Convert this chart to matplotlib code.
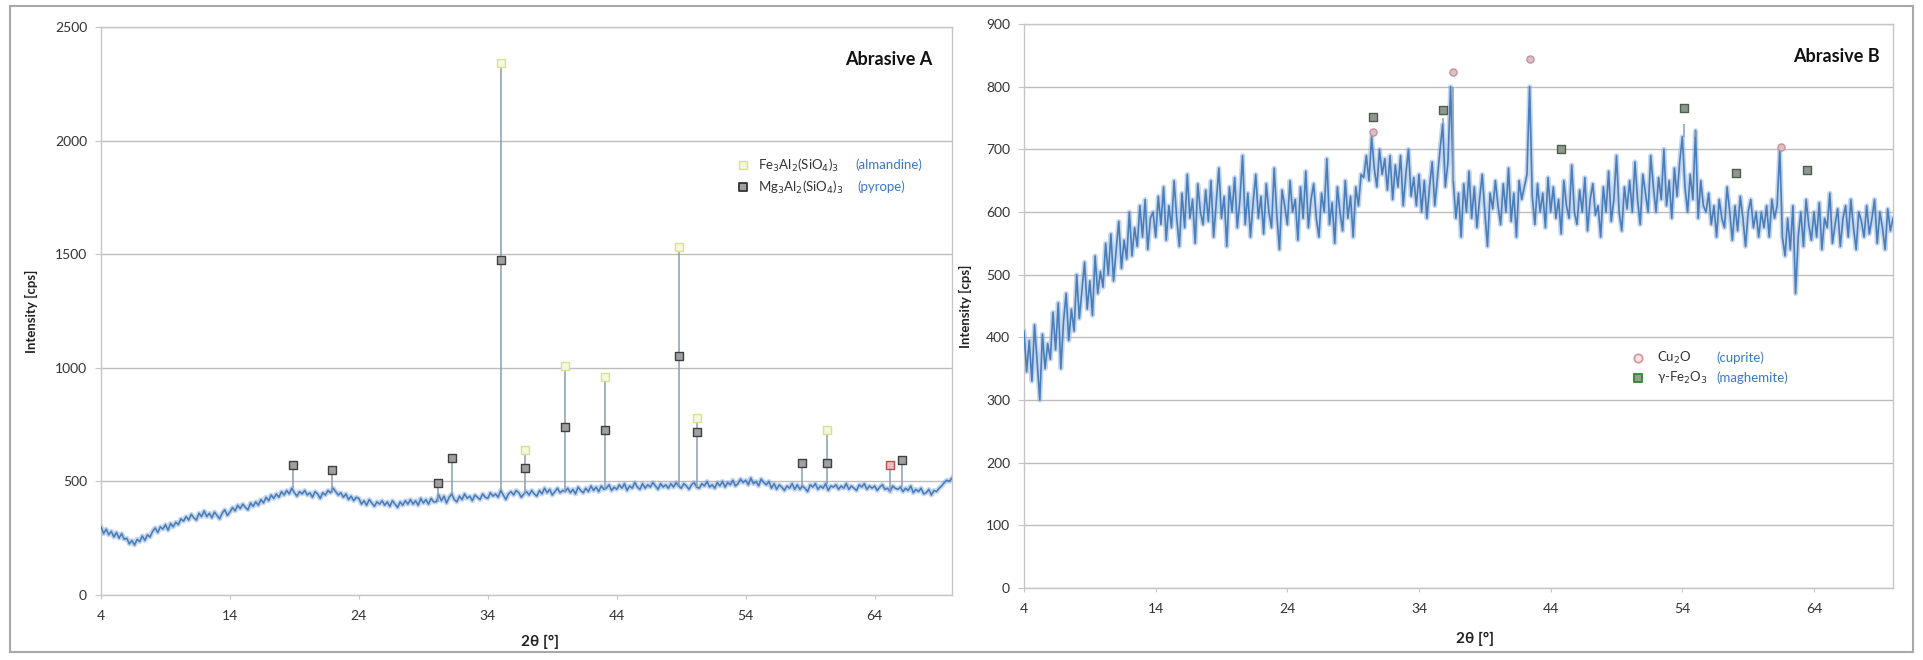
import numpy as np
import matplotlib
matplotlib.use("Agg")
import matplotlib.pyplot as plt
from matplotlib.patches import Rectangle

plt.rcParams['font.family'] = ['Lato', 'DejaVu Sans']

# ---------------- data: Abrasive A ----------------
two_theta_start = 4.0
two_theta_step = 0.2
intensity_A = [
    300, 270, 290, 265, 280, 255, 275, 250, 270, 245,
    250, 225, 240, 220, 245, 235, 260, 240, 265, 255,
    280, 295, 275, 300, 290, 310, 285, 315, 300, 320,
    310, 335, 325, 345, 330, 355, 340, 330, 360, 345,
    370, 345, 360, 340, 365, 350, 335, 360, 375, 350,
    365, 385, 370, 395, 380, 400, 385, 375, 405, 390,
    410, 395, 420, 405, 430, 415, 440, 425, 445, 430,
    455, 440, 460, 445, 470, 450, 435, 455, 445, 460,
    440, 450, 430, 455, 445, 425, 450, 440, 460, 450,
    470, 455, 440, 450, 430, 445, 420, 435, 415, 430,
    425, 400, 415, 395, 420, 405, 390, 410, 400, 415,
    395, 410, 390, 415, 400, 385, 410, 395, 415, 400,
    420, 400, 415, 395, 425, 405, 420, 400, 425, 410,
    410, 440, 415, 435, 405, 430, 445, 420, 410, 435,
    420, 445, 425, 435, 415, 440, 430, 420, 445, 430,
    425, 450, 435, 445, 430, 460, 440, 420, 445, 455,
    440, 460, 450, 430, 445, 455, 440, 460, 445, 435,
    460, 445, 470, 450, 465, 440, 455, 470, 450, 460,
    455, 470, 450, 465, 445, 475, 460, 450, 470, 455,
    480, 460, 475, 455, 480, 465, 470, 485, 460, 475,
    465, 485, 470, 490, 460, 480, 470, 495, 475, 465,
    490, 470, 485, 475, 495, 480, 465, 490, 475, 485,
    470, 490, 475, 495, 480, 470, 490, 480, 465, 485,
    495, 475, 470, 490, 480, 500, 475, 485, 470, 495,
    480, 500, 475, 495, 485, 505, 480, 490, 510, 495,
    505, 485, 515, 490, 500, 480, 510, 495, 485, 500,
    470, 490, 465, 485, 475, 460, 480, 470, 490, 465,
    485, 465, 480, 470, 455, 485, 475, 490, 465, 480,
    470, 490, 460, 480, 475, 485, 465, 480, 470, 490,
    465, 480, 470, 460, 485, 475, 490, 465, 480, 470,
    480, 460, 475, 485, 465, 470, 455, 480, 470, 465,
    475, 455, 470, 460, 480, 450, 465, 455, 470, 445,
    450, 465, 440, 460, 455, 470, 480, 495, 505, 500,
    515,
]
peaks_A_pos = [18.9, 21.9, 30.1, 31.2, 35.0, 36.9, 40.0, 43.1, 48.8, 50.2, 58.4, 60.3, 65.2, 66.1]
peaks_A_top = [550, 530, 475, 590, 2340, 620, 1000, 960, 1530, 780, 560, 730, 555, 575]

almandine_pos = [35.0, 36.9, 40.0, 43.1, 48.8, 50.2, 60.3]
almandine_val = [2340, 638, 1010, 960, 1532, 780, 726]
pyrope_pos = [18.9, 21.9, 30.1, 31.2, 35.0, 36.9, 40.0, 43.1, 48.8, 50.2, 58.4, 60.3, 66.1]
pyrope_val = [572, 550, 493, 603, 1474, 559, 740, 726, 1052, 717, 581, 581, 594]
other_A_pos = [65.2]
other_A_val = [572]

# ---------------- data: Abrasive B ----------------
intensity_B = [
    410, 345, 395, 330, 420, 360, 300, 405, 350, 390,
    365, 440, 380, 455, 350, 425, 470, 395, 445, 410,
    500, 430, 475, 520, 445, 490, 435, 530, 470, 505,
    480, 550, 500, 565, 490, 540, 585, 510, 555, 525,
    600, 530, 575, 545, 610, 560, 620, 540, 590, 600,
    560, 625, 580, 640, 555, 610, 575, 650, 590, 545,
    630, 575, 660, 590, 620, 550, 645, 600, 580, 635,
    585, 650, 560, 615, 670, 590, 625, 545, 640, 600,
    655, 575, 620, 690, 580, 630, 560, 615, 660, 590,
    625, 565, 645, 600, 575, 670, 595, 540, 635, 610,
    580, 650, 600, 620, 555, 640, 590, 665, 575, 620,
    645, 590, 560, 630, 600, 685, 580, 615, 550, 640,
    600, 570, 650, 590, 625, 560, 640, 610, 660, 655,
    690, 650, 720, 670, 640, 700, 660, 685, 635, 690,
    620, 675, 640, 690, 610, 660, 700, 625, 655, 610,
    660, 600, 650, 590, 640, 680, 610, 655, 700, 740,
    640, 680, 800, 650, 590, 630, 560, 645, 600, 665,
    590, 640, 575, 620, 660, 600, 545, 630, 605, 650,
    610, 580, 645, 600, 670, 585, 630, 560, 650, 620,
    640, 660, 800, 625, 580, 645, 600, 630, 575, 655,
    600, 640, 590, 620, 565, 650, 610, 590, 675, 600,
    580, 635, 600, 655, 570, 620, 645, 595, 610, 560,
    640, 600, 665, 585, 620, 690, 600, 570, 640, 605,
    650, 600, 680, 620, 580, 660, 630, 600, 690, 640,
    600, 655, 620, 700, 610, 650, 590, 670, 625, 680,
    720, 640, 600, 660, 620, 730, 590, 650, 610, 600,
    630, 580, 610, 560, 620, 590, 575, 640, 600, 555,
    610, 570, 625, 590, 545, 600, 620, 575, 600, 560,
    600, 575, 610, 560, 620, 590, 610, 700, 560, 530,
    590, 540, 610, 470, 560, 600, 545, 620, 580, 555,
    600, 560, 615, 540, 590, 575, 630, 550, 580, 605,
    545, 590, 610, 560, 620, 575, 540, 600, 585, 560,
    610, 565, 590, 620, 550, 600, 575, 540, 605, 570,
    590,
]
peaks_B_pos = [30.5, 35.8, 36.6, 42.4, 54.1, 55.0, 61.5]
peaks_B_top = [730, 750, 800, 800, 740, 720, 700]

cuprite_pos = [30.5, 36.6, 42.4, 61.5]
cuprite_val = [728, 823, 844, 704]
maghemite_pos = [30.5, 35.8, 44.8, 54.1, 58.1, 63.5]
maghemite_val = [751, 763, 700, 766, 662, 667]

x_ticks = [4, 14, 24, 34, 44, 54, 64]

# ---------------- figure ----------------
W, H = 1923, 660
fig = plt.figure(figsize=(W / 100, H / 100), dpi=100)

def px_axes(l, t, r, b):
    return fig.add_axes([l / W, 1 - b / H, (r - l) / W, (b - t) / H])

axA = px_axes(101, 27, 952, 595)
axB = px_axes(1024, 24, 1893, 588)

line_col = '#4a7ebb'
band_col = '#8fb0dc'
grid_col = '#bdbdbd'
frame_col = '#c6c6c6'
name_col = '#3b78c8'
leg_fs = 9.5

def style(ax, ymax, ystep):
    ax.set_xlim(4, 70)
    ax.set_ylim(0, ymax)
    ax.set_xticks(x_ticks)
    ax.set_yticks(np.arange(0, ymax + 1, ystep))
    ax.grid(axis='y', color=grid_col, lw=1.0)
    ax.set_axisbelow(True)
    for s in ax.spines.values():
        s.set_color(frame_col)
        s.set_linewidth(1.0)
    ax.tick_params(axis='x', direction='out', length=3, pad=8, color=frame_col,
                   labelsize=10, labelcolor='#333333')
    ax.tick_params(axis='y', direction='out', length=4, pad=6, color=frame_col,
                   labelsize=10, labelcolor='#333333')
    ax.set_xlabel('2θ [°]', fontsize=11, fontweight='bold', color='#222222')
    ax.set_ylabel('Intensity [cps]', fontsize=9.5, fontweight='bold', color='#222222')

def draw_spectrum(ax, data, ppos, ptop):
    x = two_theta_start + two_theta_step * np.arange(len(data))
    y = np.asarray(data, dtype=float)
    ax.plot(x, y, color=band_col, lw=3.6, alpha=0.5, zorder=2)
    ax.plot(x, y, color=line_col, lw=1.2, zorder=3)
    base = [y[np.abs(x - p).argmin()] for p in ppos]
    ax.vlines(ppos, base, ptop, color='#8a9cb8', lw=1.1, zorder=3)

# Abrasive A
style(axA, 2500, 500)
draw_spectrum(axA, intensity_A, peaks_A_pos, peaks_A_top)
axA.scatter(almandine_pos, almandine_val, marker='s', s=30, facecolor='#f5f8de',
            edgecolor='#d8e28a', lw=1.0, zorder=5)
axA.scatter(pyrope_pos, pyrope_val, marker='s', s=30, facecolor='#a0a0a0',
            edgecolor='#404040', lw=1.0, zorder=5)
axA.scatter(other_A_pos, other_A_val, marker='s', s=30, facecolor='#e6c0c0',
            edgecolor='#b85050', lw=1.0, zorder=5)
axA.xaxis.set_label_coords(0.516, -0.070)
axA.yaxis.set_label_coords(-0.074, 0.5)
axA.text(0.9765, 0.942, 'Abrasive A', transform=axA.transAxes, ha='right', va='center',
         fontsize=13, fontweight='bold', color='#111111')
# legend A
axA.scatter([0.754], [0.757], marker='s', s=36, facecolor='#f5f8de', edgecolor='#d8e28a',
            lw=1.0, transform=axA.transAxes, zorder=6, clip_on=False)
axA.scatter([0.754], [0.718], marker='s', s=36, facecolor='#a0a0a0', edgecolor='#333333',
            lw=1.3, transform=axA.transAxes, zorder=6, clip_on=False)
axA.text(0.772, 0.757, r'Fe$_3$Al$_2$(SiO$_4$)$_3$', transform=axA.transAxes, va='center',
         fontsize=leg_fs, color='#333333')
axA.text(0.887, 0.757, '(almandine)', transform=axA.transAxes, va='center',
         fontsize=leg_fs, color=name_col)
axA.text(0.772, 0.718, r'Mg$_3$Al$_2$(SiO$_4$)$_3$', transform=axA.transAxes, va='center',
         fontsize=leg_fs, color='#333333')
axA.text(0.889, 0.718, '(pyrope)', transform=axA.transAxes, va='center',
         fontsize=leg_fs, color=name_col)

# Abrasive B
style(axB, 900, 100)
draw_spectrum(axB, intensity_B, peaks_B_pos, peaks_B_top)
axB.scatter(cuprite_pos, cuprite_val, marker='o', s=26, facecolor='#d9c2c6',
            edgecolor='#c98f98', lw=1.0, zorder=5)
axB.scatter(maghemite_pos, maghemite_val, marker='s', s=30, facecolor='#8f978f',
            edgecolor='#4b5f4b', lw=1.0, zorder=5)
axB.xaxis.set_label_coords(0.519, -0.078)
axB.yaxis.set_label_coords(-0.06, 0.5)
axB.text(0.985, 0.9415, 'Abrasive B', transform=axB.transAxes, ha='right', va='center',
         fontsize=13, fontweight='bold', color='#111111')
axB.scatter([0.7066], [0.4078], marker='o', s=36, facecolor='#f4e4e6', edgecolor='#d49aa2',
            lw=1.3, transform=axB.transAxes, zorder=6, clip_on=False)
axB.scatter([0.7066], [0.3723], marker='s', s=36, facecolor='#8fa08f', edgecolor='#3f8a3f',
            lw=1.5, transform=axB.transAxes, zorder=6, clip_on=False)
axB.text(0.7284, 0.4078, r'Cu$_2$O', transform=axB.transAxes, va='center',
         fontsize=leg_fs, color='#333333')
axB.text(0.7965, 0.4078, '(cuprite)', transform=axB.transAxes, va='center',
         fontsize=leg_fs, color=name_col)
axB.text(0.7284, 0.3723, r'γ-Fe$_2$O$_3$', transform=axB.transAxes, va='center',
         fontsize=leg_fs, color='#333333')
axB.text(0.7965, 0.3723, '(maghemite)', transform=axB.transAxes, va='center',
         fontsize=leg_fs, color=name_col)

# outer frame
fig.patches.append(Rectangle((10 / W, 1 - 652 / H), (1913 - 10) / W, (652 - 6) / H,
                             transform=fig.transFigure, fill=False,
                             edgecolor='#a8a8a8', lw=1.5))

fig.savefig('out.png', dpi=100)
